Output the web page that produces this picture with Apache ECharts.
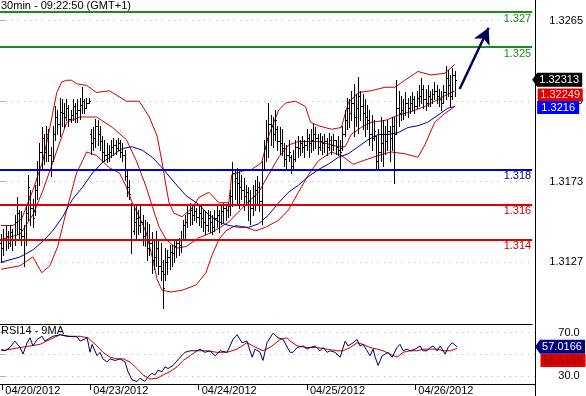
<!DOCTYPE html>
<html><head><meta charset="utf-8">
<script src="https://cdn.jsdelivr.net/npm/echarts@6/dist/echarts.min.js"></script>
<style>html,body{margin:0;padding:0;background:#fff}#c{width:586px;height:396px}</style>
</head><body><div id="c"></div>
<script>
// ---- price bars (30 min) ----
const open = [1.3138,1.3135,1.3140,1.3142,1.3138,1.3144,1.3140,1.3150,1.3155,1.3146,1.3142,1.3140,1.3155,1.3165,1.3158,1.3156,1.3168,1.3180,1.3190,1.3198,
1.3190,1.3200,1.3188,1.3185,1.3200,1.3210,1.3206,1.3213,1.3212,1.3210,1.3215,1.3209,1.3211,1.3216,1.3212,1.3214,1.3217,1.3219,1.3215,1.3218,
1.3200,1.3195,1.3198,1.3205,1.3200,1.3196,1.3190,1.3188,1.3189,1.3190,1.3193,1.3194,1.3192,1.3195,1.3190,1.3188,1.3176,1.3170,1.3160,1.3145,
1.3150,1.3152,1.3148,1.3150,1.3142,1.3140,1.3135,1.3138,1.3128,1.3130,1.3135,1.3125,1.3122,1.3120,1.3127,1.3130,1.3133,1.3132,1.3136,1.3138,
1.3137,1.3140,1.3148,1.3150,1.3155,1.3157,1.3154,1.3156,1.3153,1.3155,1.3152,1.3150,1.3148,1.3152,1.3150,1.3147,1.3152,1.3154,1.3150,1.3156,
1.3158,1.3157,1.3159,1.3165,1.3178,1.3175,1.3172,1.3170,1.3168,1.3165,1.3167,1.3162,1.3158,1.3165,1.3168,1.3170,1.3162,1.3180,1.3192,1.3198,
1.3206,1.3205,1.3200,1.3203,1.3196,1.3195,1.3192,1.3186,1.3188,1.3187,1.3182,1.3186,1.3193,1.3192,1.3195,1.3193,1.3194,1.3198,1.3195,1.3197,
1.3200,1.3198,1.3193,1.3196,1.3195,1.3196,1.3193,1.3197,1.3194,1.3197,1.3193,1.3191,1.3192,1.3200,1.3208,1.3215,1.3212,1.3218,1.3210,1.3215,
1.3222,1.3216,1.3212,1.3210,1.3208,1.3200,1.3198,1.3199,1.3185,1.3190,1.3195,1.3200,1.3196,1.3202,1.3198,1.3205,1.3200,1.3215,1.3212,1.3214,
1.3212,1.3218,1.3215,1.3218,1.3220,1.3216,1.3221,1.3222,1.3226,1.3220,1.3218,1.3222,1.3220,1.3223,1.3225,1.3222,1.3220,1.3218,1.3224,1.3232,
1.3228,1.3222,1.3234];
const high = [1.3143,1.3146,1.3148,1.3145,1.3148,1.3146,1.3154,1.3164,1.3157,1.3156,1.3148,1.3160,1.3177,1.3168,1.3163,1.3171,1.3185,1.3195,1.3204,1.3200,
1.3205,1.3203,1.3193,1.3205,1.3216,1.3214,1.3221,1.3220,1.3218,1.3220,1.3217,1.3214,1.3220,1.3218,1.3220,1.3221,1.3227,1.3220,1.3221,1.3221,
1.3203,1.3204,1.3209,1.3208,1.3205,1.3199,1.3197,1.3195,1.3194,1.3197,1.3198,1.3197,1.3198,1.3197,1.3195,1.3191,1.3180,1.3174,1.3161,1.3160,
1.3159,1.3157,1.3160,1.3154,1.3151,1.3150,1.3149,1.3144,1.3140,1.3145,1.3140,1.3138,1.3128,1.3135,1.3134,1.3137,1.3137,1.3140,1.3140,1.3141,
1.3145,1.3151,1.3154,1.3160,1.3161,1.3159,1.3160,1.3158,1.3159,1.3159,1.3157,1.3156,1.3157,1.3156,1.3154,1.3157,1.3159,1.3157,1.3160,1.3161,
1.3160,1.3161,1.3168,1.3184,1.3180,1.3181,1.3179,1.3177,1.3175,1.3171,1.3170,1.3168,1.3171,1.3174,1.3176,1.3173,1.3185,1.3197,1.3208,1.3218,
1.3211,1.3210,1.3214,1.3205,1.3204,1.3203,1.3195,1.3194,1.3197,1.3188,1.3191,1.3197,1.3199,1.3197,1.3199,1.3197,1.3203,1.3200,1.3203,1.3206,
1.3204,1.3200,1.3201,1.3199,1.3200,1.3198,1.3201,1.3199,1.3200,1.3197,1.3199,1.3197,1.3205,1.3214,1.3221,1.3220,1.3225,1.3229,1.3223,1.3233,
1.3225,1.3223,1.3220,1.3217,1.3214,1.3211,1.3208,1.3199,1.3203,1.3210,1.3208,1.3205,1.3208,1.3205,1.3210,1.3210,1.3231,1.3225,1.3222,1.3220,
1.3224,1.3221,1.3222,1.3224,1.3222,1.3225,1.3228,1.3232,1.3228,1.3226,1.3228,1.3225,1.3226,1.3230,1.3228,1.3226,1.3225,1.3228,1.3239,1.3237,
1.3234,1.3238,1.3236];
const low = [1.3127,1.3131,1.3134,1.3135,1.3136,1.3134,1.3137,1.3143,1.3140,1.3137,1.3125,1.3137,1.3151,1.3148,1.3147,1.3154,1.3163,1.3171,1.3180,1.3183,
1.3185,1.3185,1.3176,1.3185,1.3197,1.3200,1.3199,1.3205,1.3204,1.3208,1.3205,1.3207,1.3208,1.3207,1.3207,1.3209,1.3212,1.3212,1.3215,1.3218,
1.3189,1.3191,1.3193,1.3194,1.3191,1.3184,1.3185,1.3184,1.3185,1.3187,1.3188,1.3189,1.3191,1.3187,1.3185,1.3174,1.3165,1.3163,1.3132,1.3143,
1.3140,1.3143,1.3144,1.3137,1.3136,1.3128,1.3131,1.3121,1.3123,1.3125,1.3120,1.3117,1.3101,1.3117,1.3120,1.3123,1.3125,1.3127,1.3130,1.3131,
1.3133,1.3140,1.3141,1.3147,1.3148,1.3149,1.3151,1.3150,1.3148,1.3147,1.3145,1.3143,1.3145,1.3144,1.3143,1.3145,1.3147,1.3144,1.3149,1.3150,
1.3151,1.3153,1.3154,1.3159,1.3163,1.3160,1.3158,1.3163,1.3157,1.3160,1.3151,1.3149,1.3154,1.3157,1.3160,1.3156,1.3149,1.3180,1.3185,1.3187,
1.3194,1.3193,1.3197,1.3191,1.3189,1.3188,1.3182,1.3181,1.3185,1.3178,1.3180,1.3185,1.3187,1.3188,1.3190,1.3187,1.3191,1.3187,1.3190,1.3191,
1.3192,1.3189,1.3191,1.3189,1.3190,1.3188,1.3191,1.3189,1.3191,1.3189,1.3188,1.3181,1.3191,1.3199,1.3203,1.3204,1.3208,1.3199,1.3205,1.3201,
1.3208,1.3203,1.3199,1.3203,1.3194,1.3191,1.3197,1.3180,1.3181,1.3185,1.3182,1.3189,1.3191,1.3185,1.3191,1.3172,1.3200,1.3205,1.3208,1.3209,
1.3211,1.3210,1.3212,1.3214,1.3212,1.3215,1.3216,1.3218,1.3215,1.3214,1.3216,1.3216,1.3218,1.3220,1.3218,1.3216,1.3214,1.3218,1.3220,1.3222,
1.3216,1.3220,1.3222];
const close = [1.3135,1.3140,1.3142,1.3138,1.3144,1.3140,1.3150,1.3155,1.3146,1.3142,1.3140,1.3155,1.3170,1.3158,1.3152,1.3168,1.3180,1.3190,1.3198,1.3190,
1.3200,1.3188,1.3185,1.3200,1.3210,1.3206,1.3213,1.3212,1.3210,1.3215,1.3209,1.3211,1.3216,1.3212,1.3214,1.3217,1.3219,1.3215,1.3218,1.3219,
1.3195,1.3198,1.3205,1.3200,1.3196,1.3190,1.3188,1.3189,1.3190,1.3193,1.3194,1.3192,1.3195,1.3190,1.3188,1.3176,1.3170,1.3166,1.3140,1.3150,
1.3152,1.3148,1.3150,1.3142,1.3140,1.3135,1.3138,1.3128,1.3130,1.3135,1.3125,1.3122,1.3112,1.3127,1.3130,1.3133,1.3132,1.3136,1.3138,1.3137,
1.3140,1.3148,1.3150,1.3155,1.3157,1.3154,1.3156,1.3153,1.3155,1.3152,1.3150,1.3148,1.3152,1.3150,1.3147,1.3152,1.3154,1.3150,1.3156,1.3158,
1.3157,1.3159,1.3165,1.3178,1.3175,1.3172,1.3170,1.3168,1.3165,1.3167,1.3162,1.3158,1.3165,1.3168,1.3170,1.3162,1.3180,1.3192,1.3198,1.3206,
1.3205,1.3200,1.3208,1.3196,1.3195,1.3192,1.3186,1.3188,1.3190,1.3182,1.3186,1.3193,1.3192,1.3195,1.3193,1.3194,1.3198,1.3195,1.3197,1.3200,
1.3198,1.3193,1.3196,1.3195,1.3196,1.3193,1.3197,1.3194,1.3197,1.3193,1.3191,1.3190,1.3200,1.3208,1.3215,1.3212,1.3218,1.3210,1.3215,1.3222,
1.3216,1.3212,1.3210,1.3208,1.3200,1.3198,1.3202,1.3185,1.3190,1.3195,1.3200,1.3196,1.3202,1.3198,1.3205,1.3200,1.3215,1.3212,1.3214,1.3212,
1.3218,1.3215,1.3218,1.3220,1.3216,1.3221,1.3222,1.3226,1.3220,1.3218,1.3222,1.3220,1.3223,1.3225,1.3222,1.3220,1.3218,1.3224,1.3232,1.3228,
1.3222,1.3234,1.32313];

// ---- Bollinger bands and moving average: [bar index, price] ----
const bbUpper = [[0,1.3148],[5.3,1.3148],[9.2,1.3152],[14.1,1.3168],[18.6,1.3185],[21.7,1.3204],[24.8,1.3224],[27,1.3230],[29.2,1.3231],[31.4,1.3231],
[33.6,1.3229],[38.1,1.3228],[42.5,1.3224],[48.2,1.3225],[55.8,1.3219],[61.5,1.3219],[66,1.3210],[69.5,1.3199],[71.7,1.3184],[73.5,1.3170],
[74.8,1.3161],[77,1.3155],[80.6,1.3153],[85,1.3158],[88.1,1.3164],[92.5,1.3167],[97,1.3161],[101.4,1.3161],[102.7,1.3177],[107.2,1.3179],
[111.6,1.3180],[116,1.3184],[119.1,1.3199],[123.6,1.3214],[126.7,1.3218],[131.1,1.3219],[135.5,1.3216],[137.8,1.3207],[141.3,1.3205],[147.1,1.3203],
[151.5,1.3204],[154.6,1.3218],[159,1.3224],[164.8,1.3225],[171,1.3227],[175.4,1.3227],[179.8,1.3231],[185.6,1.3236],[191.4,1.3234],[197.6,1.3235],[202,1.3240]];
const bbMiddle = [[0,1.3140],[8.4,1.3143],[14.1,1.3154],[18.6,1.3168],[23,1.3184],[29.2,1.3207],[35,1.3210],[42.5,1.3210],[49.6,1.3204],[55.8,1.3197],
[60.2,1.3185],[64.6,1.3170],[67.3,1.3159],[70.4,1.3147],[73.5,1.3140],[78,1.3135],[82.4,1.3136],[88.1,1.3141],[93.9,1.3144],[101.4,1.3150],
[108.9,1.3160],[114.7,1.3167],[119.1,1.3177],[123.6,1.3187],[128,1.3194],[132.4,1.3196],[141.3,1.3196],[150.2,1.3193],[153.2,1.3193],[155.9,1.3200],
[160.3,1.3204],[164.8,1.3207],[171,1.3208],[176.7,1.3211],[182.5,1.3213],[188.7,1.3216],[194.5,1.3220],[198.9,1.3223],[202,1.32249]];
const bbLower = [[0,1.3123],[8.4,1.3125],[14.1,1.3130],[18.1,1.3121],[21.7,1.3125],[25.2,1.3136],[29.2,1.3157],[33.6,1.3178],[38.1,1.3190],[42.5,1.3188],
[48.2,1.3181],[52.7,1.3178],[55.8,1.3170],[58.4,1.3161],[61.5,1.3153],[64.6,1.3144],[67.3,1.3130],[69.5,1.3117],[71.7,1.3111],[75.7,1.3110],
[80.6,1.3111],[86.8,1.3114],[91.2,1.3121],[93.9,1.3131],[97,1.3140],[100.1,1.3145],[104.5,1.3148],[108.9,1.3147],[113.4,1.3145],[117.8,1.3147],
[123.6,1.3151],[128,1.3157],[132.4,1.3167],[136.9,1.3177],[141.3,1.3185],[147.1,1.3190],[151.5,1.3188],[156.8,1.3183],[161.2,1.3185],[167.9,1.3188],
[173.7,1.3190],[179.8,1.3189],[185.6,1.3187],[188.7,1.3194],[193.1,1.3207],[197.6,1.3212],[202,1.3216]];
const maLine = [[0,1.3127],[8.4,1.3130],[14.1,1.3134],[18.6,1.3139],[23,1.3145],[27.4,1.3153],[31.8,1.3163],[36.3,1.3170],[40.7,1.3178],[45.1,1.3184],
[49.6,1.3188],[54,1.3192],[58.4,1.3193],[62.9,1.3191],[67.3,1.3187],[71.7,1.3181],[76.2,1.3174],[82.4,1.3165],[88.1,1.3160],[92.5,1.3154],
[97,1.3150],[101.4,1.3148],[105.8,1.3147],[110.3,1.3147],[114.7,1.3149],[119.1,1.3154],[123.6,1.3161],[128,1.3167],[132.4,1.3171],[136.9,1.3176],
[141.3,1.3180],[145.7,1.3183],[150.2,1.3187],[154.6,1.3189],[159,1.3193],[163.4,1.3197],[167.9,1.3200],[172.3,1.3200],[176.7,1.3201],[181.2,1.3204],
[185.6,1.3205],[190,1.3207],[194.5,1.3211],[198.9,1.3215],[202,1.3216]];

// ---- RSI(14) and its 9 MA: [bar index, value] ----
const rsi = [[0,54.9],[1.7,53.4],[3.9,56.4],[6.1,62.3],[8.4,56.4],[9.7,50.4],[11.5,60.8],[12.8,65.3],[14.1,57.8],[15.9,63.8],[18.1,66.7],[19.4,62.3],
[21.7,65.3],[23,66.7],[26.1,68.2],[29.2,66.7],[33.6,66.2],[35,62.3],[38.1,65.3],[39.4,52],[40.3,59.3],[42.5,48.9],[43.8,52],[45.1,46],[46.9,43.1],
[48.2,46],[50.5,44.5],[52.7,46],[54.9,43.1],[56.2,34.2],[58,26.7],[60.2,25.3],[61.5,28.2],[63.7,25.3],[65.1,29.7],[66.8,32.7],[68.2,31.2],[69.5,35.6],
[71.3,34.2],[72.6,38.6],[74,37.1],[76.2,40],[79.3,47.5],[81.5,52],[83.7,53.4],[86.8,53.4],[88.1,54.9],[90.3,52],[92.5,53.4],[94.8,48.9],[97,53.4],
[100.1,52],[102.7,63.8],[104.5,68.2],[106.7,60.8],[108.9,62.3],[111.2,47.5],[112.5,54.9],[114.7,52],[116,44.5],[117.8,60.8],[120.5,69.7],[122.7,65.3],
[124.9,63.8],[128,52],[129.3,52],[131.1,56.4],[133.8,57.8],[135.5,54.9],[136.9,56.4],[139.1,57.8],[141.3,53.4],[142.6,56.4],[144.4,52],[145.7,53.4],
[147.9,52],[150.2,47.5],[152.4,62.3],[153.7,57.8],[155.9,60.8],[157.7,63.8],[159,57.8],[160.3,59.3],[162.1,53.4],[163.4,48.9],[164.8,54.9],[165.7,47.5],
[167,40],[168.8,48.9],[170.1,50.4],[171.4,52],[173.2,47.5],[175.4,56.4],[176.7,59.3],[178.1,53.4],[179.8,54.9],[181.2,53.4],[183.4,54.9],[185.6,57.8],
[186.9,53.4],[188.7,53.4],[190,56.4],[191.4,57.8],[193.1,53.4],[194.5,57.8],[196.7,50.4],[198,56.4],[199.8,60.8],[202,57.0166]];
const rsiMa = [[0,53.4],[4.4,54.9],[8.4,56.4],[12.8,57.8],[17.2,59.3],[21.7,63.8],[26.1,68.2],[30.5,66.7],[35,66.7],[38.5,65.3],[42.5,57.8],[45.1,52],
[48.2,47.5],[51.3,46],[54,46],[57.1,43.1],[60.2,37.1],[62.9,31.2],[66,27.4],[69.1,28.2],[71.7,31.2],[74.8,34.2],[77.9,38.6],[80.6,44.5],[83.7,48.9],
[86.8,53.4],[91.2,53.4],[95.6,52],[100.1,52],[104.5,54.9],[108.9,60.8],[111.6,57.8],[116,53.4],[119.1,56.4],[123.6,63.8],[126.7,65.3],[128,62.3],
[131.1,58],[135.5,56.4],[140,56.4],[144.4,54.9],[148.8,53.4],[151.5,53.4],[154.6,56.4],[157.7,60.8],[160.3,59.3],[163.4,56.4],[166.6,54.9],[169.2,53.4],
[172.3,50.4],[175.4,47.5],[178.1,52],[181.2,53.4],[184.3,53.4],[186.9,54.9],[190,54.9],[193.1,54.9],[195.8,53.4],[198.9,53.4],[202,55.5155]];

// ---- levels, ticks, labels ----
const greenLevels = [1.327, 1.325];
const blueLevels = [1.318];
const redLevels = [1.316, 1.314];
const priceTicks = [1.3127, 1.3173, 1.3219, 1.3265];
const rsiGrid = [30, 50, 70];
const rsiLabels = [30, 70];
const dayTicks = [0.5, 39.5, 87.5, 135.5, 183.5];
const dayLabels = ['04/20/2012', '04/23/2012', '04/24/2012', '04/25/2012', '04/26/2012'];
const lastPrice = 1.32313, lastMid = 1.32249, lastMa = 1.3216;
const lastRsi = 57.0166, lastRsiMa = 55.5155;
const arrowPts = [[204.2, 1.3226], [217.1, 1.3261]];
const xMin = -0.5, xMax = 236.5;
const priceMin = 1.3091714, priceMax = 1.3276857;
const rsiMin = 22.9, rsiMax = 78;

const FONT = 'Arial, "Liberation Sans", sans-serif';
const bars = high.map((h, i) => [i, open[i], h, low[i], close[i]]);
const tagArrow = 'path://M0,7L5,0L50,0L50,14L5,14Z';

function levelLine(v, color, txtColor) {
  return { yAxis: v, lineStyle: { color: color, width: 2, type: 'solid' },
    label: { show: true, position: 'insideEndBottom', formatter: String(v), color: txtColor, fontSize: 11, fontFamily: FONT, distance: [1, 1] } };
}

const chart = echarts.init(document.getElementById('c'), null, { renderer: 'canvas' });
chart.setOption({
  animation: false,
  backgroundColor: '#fff',
  textStyle: { fontFamily: FONT },
  title: [
    { text: '30min - 09:22:50 (GMT+1)', left: 1, top: 0, padding: 0, textStyle: { fontSize: 11, fontWeight: 'normal', color: '#000', fontFamily: FONT } },
    { text: 'RSI14 - 9MA', left: 1, top: 325, padding: 0, textStyle: { fontSize: 11, fontWeight: 'normal', color: '#000', fontFamily: FONT } }
  ],
  grid: [
    { left: 0, right: 51, top: 0, height: 324 },
    { left: 0, right: 51, top: 324, height: 62 }
  ],
  xAxis: [
    { type: 'value', gridIndex: 0, min: xMin, max: xMax, axisLine: { show: true, onZero: false, lineStyle: { color: '#000', width: 1 } },
      axisTick: { show: false }, axisLabel: { show: false }, splitLine: { show: false } },
    { type: 'value', gridIndex: 1, min: xMin, max: xMax, axisLine: { show: true, onZero: false, lineStyle: { color: '#000', width: 1 } },
      axisTick: { show: true, customValues: dayTicks, length: 6, lineStyle: { color: '#000' } },
      axisLabel: { show: true, customValues: dayTicks, formatter: v => dayLabels[dayTicks.indexOf(v)] || '', align: 'left', margin: 1, padding: [0, 0, 0, 3], fontSize: 11, color: '#000', fontFamily: FONT },
      splitLine: { show: false } }
  ],
  yAxis: [
    { type: 'value', gridIndex: 0, position: 'right', min: priceMin, max: priceMax, axisLine: { show: false },
      axisTick: { show: true, customValues: priceTicks, length: 4, lineStyle: { color: '#aaa' } },
      axisLabel: { show: true, customValues: priceTicks, formatter: v => v.toFixed(4), align: 'center', margin: 34, fontSize: 11, color: '#000', fontFamily: FONT },
      splitLine: { show: true, lineStyle: { color: '#b8b8b8', type: [1, 5], width: 1 } } },
    { type: 'value', gridIndex: 1, position: 'right', min: rsiMin, max: rsiMax, axisLine: { show: false },
      axisTick: { show: true, customValues: rsiGrid, length: 4, lineStyle: { color: '#aaa' } },
      axisLabel: { show: true, customValues: rsiLabels, formatter: v => v.toFixed(1), align: 'center', margin: 34, fontSize: 11, color: '#000', fontFamily: FONT },
      splitLine: { show: true, lineStyle: { color: '#b8b8b8', type: [1, 5], width: 1 } } }
  ],
  graphic: [
    { type: 'line', shape: { x1: 535.5, y1: 0, x2: 535.5, y2: 396 }, style: { stroke: '#000', lineWidth: 1 }, z: 100 }
  ],
  series: [
    { type: 'custom', name: 'price', xAxisIndex: 0, yAxisIndex: 0, data: bars, encode: { x: 0, y: [1, 2, 3, 4] }, z: 3,
      renderItem: function (params, api) {
        const i = api.value(0);
        const pO = api.coord([i, api.value(1)]);
        const pH = api.coord([i, api.value(2)]);
        const pL = api.coord([i, api.value(3)]);
        const pC = api.coord([i, api.value(4)]);
        const x = Math.round(pH[0]) + 0.5;
        const yo = Math.round(pO[1]) + 0.5;
        const yc = Math.round(pC[1]) + 0.5;
        return { type: 'group', children: [
          { type: 'line', shape: { x1: x, y1: Math.round(pH[1]), x2: x, y2: Math.round(pL[1]) + 1 }, style: { stroke: '#000', lineWidth: 1 } },
          { type: 'line', shape: { x1: x - 1.5, y1: yo, x2: x, y2: yo }, style: { stroke: '#000', lineWidth: 1 } },
          { type: 'line', shape: { x1: x, y1: yc, x2: x + 1.5, y2: yc }, style: { stroke: '#000', lineWidth: 1 } }
        ] };
      } },
    { type: 'line', name: 'bbUpper', xAxisIndex: 0, yAxisIndex: 0, data: bbUpper, showSymbol: false, symbol: 'none', z: 2,
      lineStyle: { color: '#d00000', width: 1 } },
    { type: 'line', name: 'bbMiddle', xAxisIndex: 0, yAxisIndex: 0, data: bbMiddle, showSymbol: false, symbol: 'none', z: 2, clip: false,
      lineStyle: { color: '#d00000', width: 1 },
      markLine: { silent: true, symbol: 'none', animation: false, precision: 6,
        data: redLevels.map(v => levelLine(v, '#e00000', '#cc0000')) } },
    { type: 'line', name: 'bbLower', xAxisIndex: 0, yAxisIndex: 0, data: bbLower, showSymbol: false, symbol: 'none', z: 2,
      lineStyle: { color: '#d00000', width: 1 } },
    { type: 'line', name: 'ma', xAxisIndex: 0, yAxisIndex: 0, data: maLine, showSymbol: false, symbol: 'none', z: 2, clip: false,
      lineStyle: { color: '#0000a0', width: 1 },
      markLine: { silent: true, symbol: 'none', animation: false, precision: 6,
        data: greenLevels.map(v => levelLine(v, '#1c8c1c', '#1c8c1c')).concat(blueLevels.map(v => levelLine(v, '#0000dd', '#000080'))) } },
    { type: 'line', name: 'tags', xAxisIndex: 0, yAxisIndex: 0, data: [], clip: false, z: 10,
      markLine: { silent: true, animation: false, precision: 6, symbol: ['none', 'arrow'], symbolSize: [13, 16],
        lineStyle: { color: '#00005a', width: 2.5, type: 'solid' }, label: { show: false },
        data: [[{ coord: arrowPts[0] }, { coord: arrowPts[1] }]] },
      markPoint: { silent: true, animation: false,
        data: [
          { coord: [xMax, lastPrice], symbol: tagArrow, symbolSize: [50, 14], symbolOffset: [25, 0], itemStyle: { color: '#000' },
            label: { show: true, position: 'inside', formatter: String(lastPrice), color: '#fff', fontSize: 11, fontFamily: FONT, offset: [2, 0] } },
          { coord: [xMax, lastMid], symbol: 'rect', symbolSize: [45, 13], symbolOffset: [28, 4], itemStyle: { color: '#e00000' },
            label: { show: true, position: 'inside', formatter: String(lastMid), color: '#ffd8d8', fontSize: 11, fontFamily: FONT } },
          { coord: [xMax, lastMa], symbol: 'rect', symbolSize: [42, 13], symbolOffset: [26, 1], itemStyle: { color: '#0000ff' },
            label: { show: true, position: 'inside', formatter: String(lastMa), color: '#fff', fontSize: 11, fontFamily: FONT } }
        ] } },
    { type: 'line', name: 'rsi', xAxisIndex: 1, yAxisIndex: 1, data: rsi, showSymbol: false, symbol: 'none', z: 3, clip: false,
      lineStyle: { color: '#000066', width: 1 },
      markPoint: { silent: true, animation: false,
        data: [
          { coord: [xMax, lastRsi], symbol: tagArrow, symbolSize: [50, 14], symbolOffset: [25, 0], itemStyle: { color: '#000080' },
            label: { show: true, position: 'inside', formatter: String(lastRsi), color: '#fff', fontSize: 11, fontFamily: FONT, offset: [2, 0] } }
        ] } },
    { type: 'line', name: 'rsiMa', xAxisIndex: 1, yAxisIndex: 1, data: rsiMa, showSymbol: false, symbol: 'none', z: 2, clip: false,
      lineStyle: { color: '#cc0000', width: 1 },
      markPoint: { silent: true, animation: false,
        data: [
          { coord: [xMax, lastRsiMa], symbol: 'rect', symbolSize: [45, 13], symbolOffset: [28, 12], itemStyle: { color: '#e00000' },
            label: { show: true, position: 'inside', formatter: String(lastRsiMa), color: '#800000', fontSize: 11, fontFamily: FONT } }
        ] } }
  ]
});
</script>
</body></html>
